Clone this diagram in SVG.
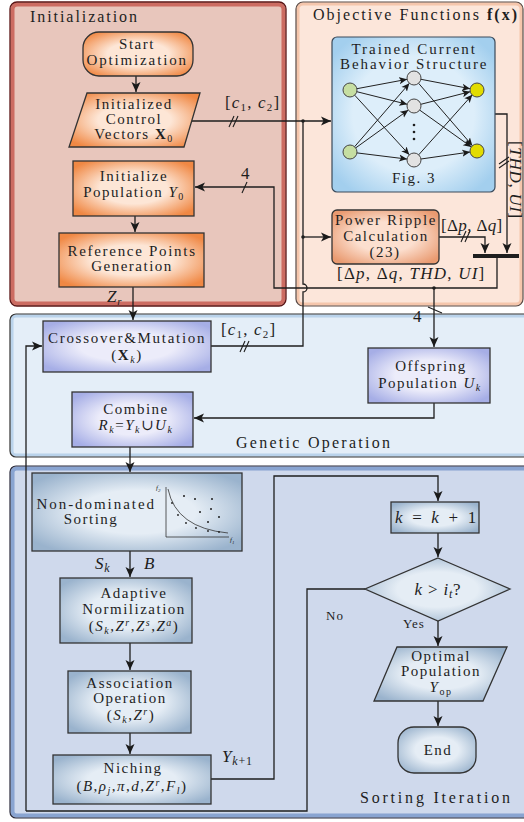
<svg xmlns="http://www.w3.org/2000/svg" width="524" height="822" viewBox="0 0 524 822">
<defs>
<radialGradient id="gOr" cx="0.5" cy="0.5" r="0.62"><stop offset="0.45" stop-color="#fde6d6"/><stop offset="1" stop-color="#f08844"/></radialGradient>
<radialGradient id="gPr" cx="0.5" cy="0.5" r="0.62"><stop offset="0.45" stop-color="#fcdfcf"/><stop offset="1" stop-color="#e99a70"/></radialGradient>
<radialGradient id="gLv" cx="0.5" cy="0.5" r="0.62"><stop offset="0.45" stop-color="#ececfa"/><stop offset="1" stop-color="#a6aee6"/></radialGradient>
<radialGradient id="gSb" cx="0.5" cy="0.5" r="0.62"><stop offset="0.45" stop-color="#e5edf5"/><stop offset="1" stop-color="#9ab3cd"/></radialGradient>
<radialGradient id="gNN" cx="0.5" cy="0.5" r="0.62"><stop offset="0.6" stop-color="#ddeefa"/><stop offset="1" stop-color="#a3cfee"/></radialGradient>
<marker id="ah" viewBox="0 0 10 10" refX="10" refY="5" markerWidth="10" markerHeight="10" markerUnits="userSpaceOnUse" orient="auto"><path d="M0,0.5 L10,5 L0,9.5 L2.5,5 Z" fill="#1a1a1a"/></marker>
<marker id="as" viewBox="0 0 10 10" refX="10" refY="5" markerWidth="8" markerHeight="8" markerUnits="userSpaceOnUse" orient="auto"><path d="M0,0.5 L10,5 L0,9.5 L2.5,5 Z" fill="#1a1a1a"/></marker>
</defs>
<style>
text{font-family:"Liberation Serif","DejaVu Serif",serif;fill:#1e1e1e;}
.t{font-size:15px;letter-spacing:1.5px;text-anchor:middle}
.ttl{font-size:16px}
.lb{font-size:17px;letter-spacing:0.8px}
.i{font-style:italic}
.b{font-weight:bold}
.nd{stroke:#333;stroke-width:1.3}
.ln{fill:none;stroke:#1e1e1e;stroke-width:1.3}
.tk{fill:none;stroke:#1e1e1e;stroke-width:1.1}
.dot{fill:#1e1e1e}
</style>

<!-- Panels -->
<g id="panel-init">
<rect x="10" y="2" width="276" height="304" rx="7" fill="#e8c6bc"/>
<rect x="12.5" y="4.5" width="271" height="299" rx="5" fill="none" stroke="#c0463c" stroke-width="4" opacity="0.7"/>
<rect x="10" y="2" width="276" height="304" rx="7" fill="none" stroke="#5a1414" stroke-width="1.3"/>
<text class="ttl" x="30" y="22" textLength="107" lengthAdjust="spacing">Initialization</text>
</g>
<g id="panel-obj">
<rect x="296" y="2" width="227" height="304" rx="7" fill="#fce6da"/>
<rect x="298" y="4" width="223" height="300" rx="5" fill="none" stroke="#f2b898" stroke-width="3" opacity="0.7"/>
<rect x="296" y="2" width="227" height="304" rx="7" fill="none" stroke="#5a4a44" stroke-width="1.2"/>
<text class="ttl" x="313" y="20" textLength="204" lengthAdjust="spacing">Objective Functions <tspan class="b">f(x)</tspan></text>
</g>
<g id="panel-gen">
<rect x="10" y="314" width="520" height="143" rx="6" fill="#e4eef8"/>
<rect x="12" y="316" width="516" height="139" rx="4" fill="none" stroke="#a8c8e6" stroke-width="3" opacity="0.7"/>
<rect x="10" y="314" width="520" height="143" rx="6" fill="none" stroke="#333" stroke-width="1.2"/>
<text class="ttl" x="236" y="448" textLength="154" lengthAdjust="spacing">Genetic Operation</text>
</g>
<g id="panel-sort">
<rect x="10" y="466" width="520" height="352" rx="6" fill="#cfd9ec"/>
<rect x="12.5" y="468.5" width="515" height="347" rx="4" fill="none" stroke="#7292c8" stroke-width="4" opacity="0.75"/>
<rect x="10" y="466" width="520" height="352" rx="6" fill="none" stroke="#2a2a3a" stroke-width="1.2"/>
<text class="ttl" x="360" y="803" textLength="150" lengthAdjust="spacing">Sorting Iteration</text>
</g>

<!-- Connectors -->
<g id="connectors">
<path class="ln" d="M136,76 L136,92" marker-end="url(#ah)"/>
<path class="ln" d="M135,216 L135,232" marker-end="url(#ah)"/>
<path class="ln" d="M190,121 L331,121" marker-end="url(#ah)"/>
<path class="ln" d="M211,346 L303,346 L303,292 A4,4 0 0 0 303,284 L303,121"/>
<path class="ln" d="M303,237 L331,237" marker-end="url(#ah)"/>
<circle class="dot" cx="303" cy="121" r="1.8"/>
<circle class="dot" cx="303" cy="237" r="1.8"/>
<path class="ln" d="M133,287 L133,320" marker-end="url(#ah)"/>
<path class="ln" d="M495,114 L507,114 L507,253" marker-end="url(#ah)"/>
<path class="ln" d="M439,237 L485,237 L485,253" marker-end="url(#ah)"/>
<rect x="473" y="254" width="46" height="4" fill="#1e1e1e"/>
<path class="ln" d="M497,258 L497,288 L274,288 L274,187 L195,187" marker-end="url(#ah)"/>
<circle class="dot" cx="434" cy="288" r="1.8"/>
<path class="ln" d="M434,288 L434,347" marker-end="url(#ah)"/>
<path class="ln" d="M434,403 L434,418 L194,418" marker-end="url(#ah)"/>
<path class="ln" d="M130,447 L130,472" marker-end="url(#ah)"/>
<path class="ln" d="M26,811 L26,346 L42,346" marker-end="url(#ah)"/>
<path class="ln" d="M365,589 L307,589 L307,811 L26,811"/>
<path class="ln" d="M130,551 L130,577" marker-end="url(#ah)"/>
<path class="ln" d="M130,643 L130,670" marker-end="url(#ah)"/>
<path class="ln" d="M130,733 L130,754" marker-end="url(#ah)"/>
<path class="ln" d="M211,779 L274,779 L274,476 L438,476 L438,501" marker-end="url(#ah)"/>
<path class="ln" d="M438,533 L438,557" marker-end="url(#ah)"/>
<path class="ln" d="M438,621 L438,646" marker-end="url(#ah)"/>
<path class="ln" d="M438,701 L438,726" marker-end="url(#ah)"/>
<path class="tk" d="M229,127 L234,116 M233,127 L238,116"/>
<path class="tk" d="M240,352 L245,341 M244,352 L249,341"/>
<path class="tk" d="M461,242 L466,231 M465,242 L470,231"/>
<path class="tk" d="M499,164 L509,157 M499,168 L509,161"/>
<path class="tk" d="M242,193 L247,182"/>
<path class="tk" d="M428,307 L442,313"/>
<text class="lb" x="225" y="108" textLength="55" lengthAdjust="spacing">[<tspan class="i">c</tspan><tspan font-size="11" dy="3">1</tspan><tspan dy="-3">, </tspan><tspan class="i">c</tspan><tspan font-size="11" dy="3">2</tspan><tspan dy="-3">]</tspan></text>
<text class="lb" x="221" y="335" textLength="55" lengthAdjust="spacing">[<tspan class="i">c</tspan><tspan font-size="11" dy="3">1</tspan><tspan dy="-3">, </tspan><tspan class="i">c</tspan><tspan font-size="11" dy="3">2</tspan><tspan dy="-3">]</tspan></text>
<text class="lb" x="241" y="179">4</text>
<text class="lb" x="413" y="322">4</text>
<text class="lb" x="107" y="302"><tspan class="i">Z</tspan><tspan class="i" font-size="11" dy="3">r</tspan></text>
<text class="lb" x="441" y="231" textLength="62" lengthAdjust="spacing">[Δ<tspan class="i">p</tspan>, Δ<tspan class="i">q</tspan>]</text>
<text class="lb" x="337" y="279" textLength="148" lengthAdjust="spacing">[Δ<tspan class="i">p</tspan>, Δ<tspan class="i">q</tspan>, <tspan class="i">THD</tspan>, <tspan class="i">UI</tspan>]</text>
<text class="lb" transform="translate(510,141) rotate(90)" x="0" y="0" font-size="15" textLength="78" lengthAdjust="spacing">[<tspan class="i">THD</tspan>, <tspan class="i">UI</tspan>]</text>
<text class="lb" x="95" y="569" font-size="18"><tspan class="i">S</tspan><tspan class="i" font-size="12" dy="3">k</tspan></text>
<text class="lb" x="144" y="569" font-size="18"><tspan class="i">B</tspan></text>
<text class="lb" x="222" y="762" font-size="18"><tspan class="i">Y</tspan><tspan class="i" font-size="12" dy="3">k</tspan><tspan font-size="12">+1</tspan></text>
<text x="326" y="620" font-size="13" letter-spacing="1">No</text>
<text x="403" y="628" font-size="13" letter-spacing="1">Yes</text>
</g>

<!-- Initialization nodes -->
<g id="start">
<rect class="nd" x="83" y="32" width="110" height="44" rx="16" fill="url(#gOr)"/>
<text class="t" x="137" y="49">Start</text>
<text class="t" x="137" y="65" textLength="101" lengthAdjust="spacing">Optimization</text>
</g>
<g id="init-control">
<polygon class="nd" points="87,93 200,93 184,147 69,147" fill="url(#gOr)"/>
<text class="t" x="134" y="109">Initialized</text>
<text class="t" x="134" y="124">Control</text>
<text class="t" x="134" y="139">Vectors <tspan class="b">X</tspan><tspan font-size="10" dy="3">0</tspan></text>
</g>
<g id="init-pop">
<rect class="nd" x="73" y="161" width="121" height="55" fill="url(#gOr)"/>
<text class="t" x="134" y="181">Initialize</text>
<text class="t" x="134" y="197">Population <tspan class="i">Y</tspan><tspan font-size="10" dy="3">0</tspan></text>
</g>
<g id="ref-points">
<rect class="nd" x="59" y="233" width="145" height="54" fill="url(#gOr)"/>
<text class="t" x="132" y="256" textLength="129" lengthAdjust="spacing">Reference Points</text>
<text class="t" x="132" y="271">Generation</text>
</g>

<!-- Objective function nodes -->
<g id="nn">
<rect x="332" y="37" width="163" height="155" rx="5" fill="url(#gNN)" stroke="#3a4a5a" stroke-width="1.2"/>
<text class="t" x="414" y="54" textLength="125" lengthAdjust="spacing">Trained Current</text>
<text class="t" x="414" y="69" textLength="148" lengthAdjust="spacing">Behavior Structure</text>
<text class="t" x="414" y="183">Fig. 3</text>
<g stroke="#222" stroke-width="1" marker-end="url(#as)">
<line x1="356.9" y1="88.7" x2="407.1" y2="79.3"/>
<line x1="356.8" y1="91.7" x2="407.2" y2="104.3"/>
<line x1="354.7" y1="95.2" x2="409.3" y2="154.8"/>
<line x1="354.6" y1="146.7" x2="409.4" y2="83.3"/>
<line x1="355.7" y1="147.9" x2="408.3" y2="110.1"/>
<line x1="356.9" y1="152.9" x2="407.1" y2="159.1"/>
<line x1="420.9" y1="79.3" x2="470.1" y2="88.7"/>
<line x1="418.6" y1="83.3" x2="472.4" y2="145.7"/>
<line x1="420.8" y1="104.3" x2="470.2" y2="91.7"/>
<line x1="419.7" y1="110.1" x2="471.3" y2="146.9"/>
<line x1="418.7" y1="154.8" x2="472.3" y2="94.8"/>
<line x1="420.9" y1="159.0" x2="470.1" y2="152.0"/>
</g>
<g stroke="#444" stroke-width="1">
<circle cx="350" cy="90" r="7" fill="#c6dea2"/>
<circle cx="350" cy="152" r="7" fill="#c6dea2"/>
<circle cx="414" cy="78" r="7" fill="#e2e2e2"/>
<circle cx="414" cy="106" r="7" fill="#e2e2e2"/>
<circle cx="414" cy="160" r="7" fill="#e2e2e2"/>
<circle cx="477" cy="90" r="7" fill="#e2dc00"/>
<circle cx="477" cy="151" r="7" fill="#e2dc00"/>
</g>
<circle class="dot" cx="414" cy="125" r="1.3"/>
<circle class="dot" cx="414" cy="132" r="1.3"/>
<circle class="dot" cx="414" cy="139" r="1.3"/>
</g>
<g id="power-ripple">
<rect class="nd" x="332" y="210" width="107" height="54" rx="5" fill="url(#gPr)"/>
<text class="t" x="386" y="225" textLength="102" lengthAdjust="spacing">Power Ripple</text>
<text class="t" x="386" y="241">Calculation</text>
<text class="t" x="385" y="257">(23)</text>
</g>

<!-- Genetic operation nodes -->
<g id="crossover">
<rect class="nd" x="43" y="321" width="168" height="51" fill="url(#gLv)"/>
<text class="t" x="127" y="343" textLength="158" lengthAdjust="spacing">Crossover&amp;Mutation</text>
<text class="t" x="127" y="360">(<tspan class="b">X</tspan><tspan class="i" font-size="10" dy="3">k</tspan><tspan dy="-3">)</tspan></text>
</g>
<g id="offspring">
<rect class="nd" x="368" y="348" width="122" height="55" fill="url(#gLv)"/>
<text class="t" x="431" y="371">Offspring</text>
<text class="t" x="430" y="388">Population <tspan class="i">U</tspan><tspan class="i" font-size="10" dy="3">k</tspan></text>
</g>
<g id="combine">
<rect class="nd" x="72" y="392" width="121" height="55" fill="url(#gLv)"/>
<text class="t" x="136" y="414">Combine</text>
<text class="t" x="136" y="430" letter-spacing="0.5"><tspan class="i">R</tspan><tspan class="i" font-size="10" dy="3">k</tspan><tspan dy="-3">=</tspan><tspan class="i">Y</tspan><tspan class="i" font-size="10" dy="3">k</tspan><tspan dy="-3">∪</tspan><tspan class="i">U</tspan><tspan class="i" font-size="10" dy="3">k</tspan></text>
</g>

<!-- Sorting nodes -->
<g id="nds">
<rect class="nd" x="32" y="473" width="210" height="78" fill="url(#gSb)"/>
<text class="t" x="96" y="509" textLength="119" lengthAdjust="spacing">Non-dominated</text>
<text class="t" x="91" y="524">Sorting</text>
<path d="M166,487 L166,537 L229,537" fill="none" stroke="#333" stroke-width="0.8"/>
<path d="M168,489 Q176,528 228,533" fill="none" stroke="#333" stroke-width="0.8"/>
<g class="dot">
<circle cx="172" cy="503" r="0.9"/><circle cx="178" cy="515" r="0.9"/><circle cx="186" cy="523" r="0.9"/><circle cx="196" cy="528" r="0.9"/><circle cx="208" cy="531" r="0.9"/><circle cx="219" cy="532" r="0.9"/>
<circle cx="184" cy="496" r="1"/><circle cx="195" cy="499" r="1"/><circle cx="212" cy="499" r="1"/><circle cx="200" cy="512" r="1"/><circle cx="211" cy="509" r="1"/><circle cx="219" cy="517" r="1"/><circle cx="208" cy="522" r="1"/>
</g>
<text x="156" y="490" font-size="7" class="i">f<tspan font-size="5" dy="1.5">2</tspan></text>
<text x="230" y="542" font-size="7" class="i">f<tspan font-size="5" dy="1.5">1</tspan></text>
</g>
<g id="adaptive">
<rect class="nd" x="60" y="578" width="132" height="65" fill="url(#gSb)"/>
<text class="t" x="134" y="598">Adaptive</text>
<text class="t" x="134" y="614">Normilization</text>
<text class="t" x="134" y="631" letter-spacing="0.8">(<tspan class="i">S</tspan><tspan class="i" font-size="10" dy="3">k</tspan><tspan dy="-3">,</tspan><tspan class="i">Z</tspan><tspan class="i" font-size="10" dy="-5">r</tspan><tspan dy="5">,</tspan><tspan class="i">Z</tspan><tspan class="i" font-size="10" dy="-5">s</tspan><tspan dy="5">,</tspan><tspan class="i">Z</tspan><tspan class="i" font-size="10" dy="-5">a</tspan><tspan dy="5">)</tspan></text>
</g>
<g id="association">
<rect class="nd" x="68" y="671" width="123" height="62" fill="url(#gSb)"/>
<text class="t" x="130" y="688">Association</text>
<text class="t" x="130" y="703">Operation</text>
<text class="t" x="131" y="720">(<tspan class="i">S</tspan><tspan class="i" font-size="10" dy="3">k</tspan><tspan dy="-3">,</tspan><tspan class="i">Z</tspan><tspan class="i" font-size="10" dy="-5">r</tspan><tspan dy="5">)</tspan></text>
</g>
<g id="niching">
<rect class="nd" x="53" y="755" width="158" height="49" fill="url(#gSb)"/>
<text class="t" x="133" y="773">Niching</text>
<text class="t" x="132" y="791" letter-spacing="1">(<tspan class="i">B</tspan>,<tspan class="i">ρ</tspan><tspan class="i" font-size="10" dy="3">j</tspan><tspan dy="-3">,</tspan><tspan class="i">π</tspan>,<tspan class="i">d</tspan>,<tspan class="i">Z</tspan><tspan class="i" font-size="10" dy="-5">r</tspan><tspan dy="5">,</tspan><tspan class="i">F</tspan><tspan class="i" font-size="10" dy="3">l</tspan><tspan dy="-3">)</tspan></text>
</g>
<g id="increment">
<rect class="nd" x="391" y="502" width="88" height="31" fill="url(#gSb)"/>
<text class="lb" x="395" y="523" font-size="18" textLength="82" lengthAdjust="spacing"><tspan class="i">k</tspan> = <tspan class="i">k</tspan> + 1</text>
</g>
<g id="decision">
<polygon class="nd" points="438,558 510,589 438,621 365,589" fill="url(#gSb)"/>
<text class="lb" x="438" y="595" font-size="18" letter-spacing="1" text-anchor="middle"><tspan class="i">k</tspan> &gt; <tspan class="i">i</tspan><tspan class="i" font-size="12" dy="3">t</tspan><tspan dy="-3">?</tspan></text>
</g>
<g id="optimal">
<polygon class="nd" points="397,647 507,647 483,701 374,701" fill="url(#gSb)"/>
<text class="t" x="441" y="661">Optimal</text>
<text class="t" x="441" y="676">Population</text>
<text class="t" x="441" y="692"><tspan class="i">Y</tspan><tspan font-size="10" dy="3">op</tspan></text>
</g>
<g id="end">
<rect class="nd" x="398" y="727" width="78" height="46" rx="16" fill="url(#gSb)"/>
<text class="t" x="438" y="755">End</text>
</g>
</svg>
